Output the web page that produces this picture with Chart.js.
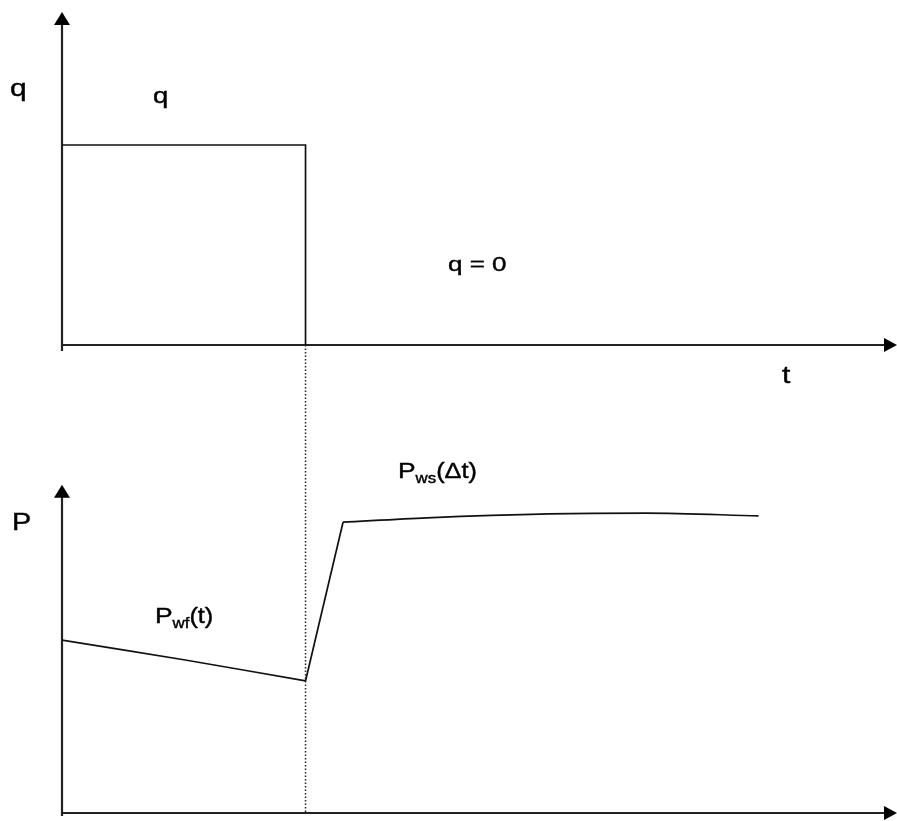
<!DOCTYPE html>
<html>
<head>
<meta charset="utf-8">
<script src="https://cdn.jsdelivr.net/npm/chart.js@4.4.1/dist/chart.umd.min.js"></script>
<style>
  html, body { margin: 0; padding: 0; background: #fff; }
  canvas { display: block; }
</style>
</head>
<body>
<canvas id="chart" width="897" height="821"></canvas>
<script>
// flow rate (top panel): constant q, then shut in at tp
const tRate = [0, 10, 10];
const qRate = [1, 1, 0];
const tShutIn = 10;

// bottom pressure: flowing pressure Pwf(t)
const tPwf = [0, 5, 10];
const pPwf = [4.40, 3.90, 3.36];

// quick build-up right after shut-in
const tJump = [10, 11.54];
const pJump = [3.36, 7.40];

// shut-in pressure Pws(dt)
const tPws = [11.54, 15, 20, 24, 28.6];
const pPws = [7.40, 7.51, 7.61, 7.63, 7.56];

function pts(xs, ys) {
  return xs.map((x, i) => ({ x: x, y: ys[i] }));
}

function drawLabel(ctx, text, x, y, size, sx) {
  ctx.save();
  ctx.translate(x, y);
  ctx.scale(sx, 1);
  ctx.font = size + 'px "Liberation Sans", Arial, sans-serif';
  ctx.fillText(text, 0, 0);
  ctx.lineWidth = 0.4;
  ctx.strokeText(text, 0, 0); // a bit heavier, like the scanned text
  const w = ctx.measureText(text).width * sx;
  ctx.restore();
  return w;
}

// axes with arrows, the dotted shut-in line and the text labels
const sketchPlugin = {
  id: 'sketch',
  beforeDatasetsDraw(chart) {
    const ctx = chart.ctx;
    const x = chart.scales.x, yQ = chart.scales.yQ, yP = chart.scales.yP;
    const x0 = x.getPixelForValue(0);
    const qZero = yQ.getPixelForValue(0);
    const pZero = yP.getPixelForValue(0);
    const right = chart.width;

    ctx.save();
    ctx.strokeStyle = '#222';
    ctx.fillStyle = '#000';
    ctx.lineWidth = 2.2;

    // top panel axes
    ctx.beginPath();
    ctx.moveTo(x0, yQ.top + 12);
    ctx.lineTo(x0, qZero + 6);
    ctx.moveTo(x0, qZero);
    ctx.lineTo(right - 10, qZero);
    ctx.stroke();

    // bottom panel axes
    const pTop = yP.getPixelForValue(8.35);
    ctx.beginPath();
    ctx.moveTo(x0, pTop + 12);
    ctx.lineTo(x0, pZero + 3);
    ctx.moveTo(x0, pZero);
    ctx.lineTo(right - 10, pZero);
    ctx.stroke();

    // arrow heads
    const up = (ax, ay) => {
      ctx.beginPath();
      ctx.moveTo(ax, ay);
      ctx.lineTo(ax - 8, ay + 13);
      ctx.lineTo(ax + 8, ay + 13);
      ctx.closePath();
      ctx.fill();
    };
    const rightArrow = (ax, ay) => {
      ctx.beginPath();
      ctx.moveTo(ax, ay);
      ctx.lineTo(ax - 13, ay - 7);
      ctx.lineTo(ax - 13, ay + 7);
      ctx.closePath();
      ctx.fill();
    };
    up(x0, yQ.top);
    up(x0, pTop);
    rightArrow(right, qZero);
    rightArrow(right, pZero);

    // dotted line at shut-in time
    const xs = x.getPixelForValue(tShutIn);
    ctx.lineWidth = 1.5;
    ctx.setLineDash([1.5, 2]);
    ctx.beginPath();
    ctx.moveTo(xs, qZero);
    ctx.lineTo(xs, pZero);
    ctx.stroke();
    ctx.restore();
  },
  afterDatasetsDraw(chart) {
    const ctx = chart.ctx;
    ctx.save();
    ctx.fillStyle = '#000';
    ctx.strokeStyle = '#000';
    ctx.textBaseline = 'alphabetic';
    drawLabel(ctx, 'q', 10, 96, 24, 1.25);
    drawLabel(ctx, 'q', 153, 103, 22, 1.25);
    drawLabel(ctx, 'q = 0', 448, 271, 20, 1.3);
    drawLabel(ctx, 't', 782, 383, 24, 1.25);
    drawLabel(ctx, 'P', 12, 530, 24, 1.2);

    let w = drawLabel(ctx, 'P', 398, 478, 22, 1.2);
    w += drawLabel(ctx, 'ws', 398 + w, 483, 14, 1.2);
    drawLabel(ctx, '(\u0394t)', 398 + w, 478, 22, 1.15);

    w = drawLabel(ctx, 'P', 155, 623, 22, 1.2);
    w += drawLabel(ctx, 'wf', 155 + w, 628, 14, 1.2);
    drawLabel(ctx, '(t)', 155 + w, 623, 22, 1.15);
    ctx.restore();
  }
};

const lineStyle = {
  borderColor: '#111',
  borderWidth: 1.7,
  pointRadius: 0,
  fill: false,
  showLine: true
};

new Chart(document.getElementById('chart').getContext('2d'), {
  type: 'scatter',
  data: {
    datasets: [
      Object.assign({ label: 'q', data: pts(tRate, qRate), yAxisID: 'yQ', tension: 0 }, lineStyle),
      Object.assign({ label: 'Pwf', data: pts(tPwf, pPwf), yAxisID: 'yP', tension: 0.3 }, lineStyle),
      Object.assign({ label: 'jump', data: pts(tJump, pJump), yAxisID: 'yP', tension: 0 }, lineStyle),
      Object.assign({ label: 'Pws', data: pts(tPws, pPws), yAxisID: 'yP', cubicInterpolationMode: 'monotone' }, lineStyle)
    ]
  },
  options: {
    responsive: false,
    animation: false,
    layout: { padding: { left: 62, right: 7, top: 12, bottom: 8 } },
    plugins: { legend: { display: false }, tooltip: { enabled: false } },
    scales: {
      x: { type: 'linear', min: 0, max: 34, display: false },
      yP: { type: 'linear', position: 'left', stack: 'panels', stackWeight: 393, min: 0, max: 10, display: false },
      yQ: { type: 'linear', position: 'left', stack: 'panels', stackWeight: 408, min: -0.375, max: 1.665, display: false }
    }
  },
  plugins: [sketchPlugin]
});
</script>
</body>
</html>
